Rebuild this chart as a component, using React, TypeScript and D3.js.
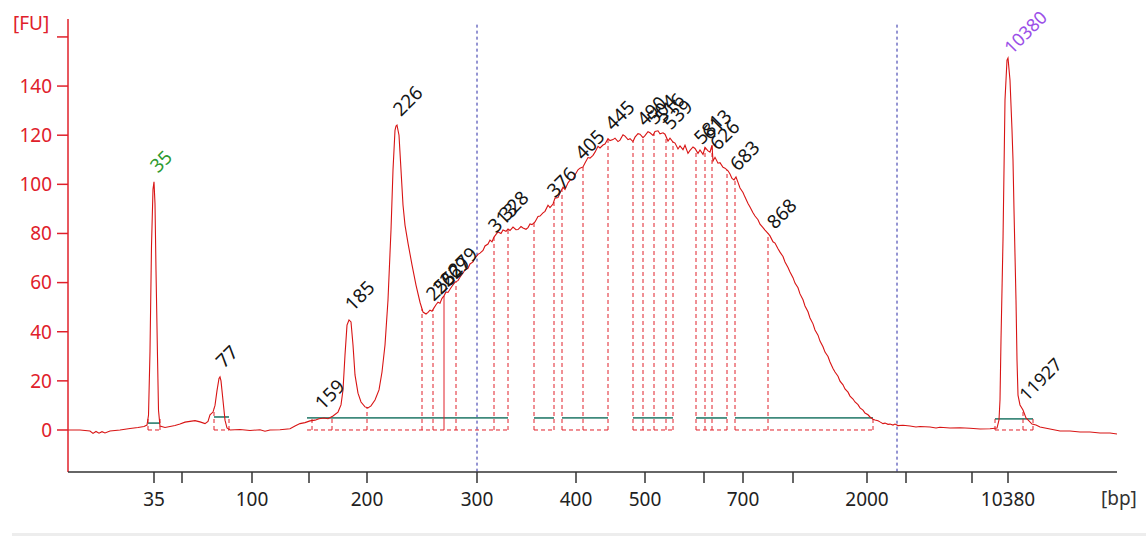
import React from "react";
import * as d3 from "d3";

// [migration time (arbitrary units), fluorescence FU]
const trace: [number, number][] = [
  [0, 0], [1.2, 0], [2.2, -0.4], [2.5, -1.4], [2.8, -0.6], [3.1, -1.3], [3.4, -0.7], [3.7, -1.2], [4.2, -0.4],
  [5.2, 0], [6.2, 0.6], [7.0, 1.0], [7.6, 1.4], [7.9, 2], [8.05, 6], [8.2, 32], [8.35, 75], [8.5, 98], [8.6, 101],
  [8.7, 92], [8.8, 65], [8.95, 30], [9.05, 8], [9.2, 1.6], [9.7, 1.0], [10.2, 1.4], [10.7, 1.8], [11.2, 2.4],
  [11.7, 3.2], [12.2, 3.5], [12.7, 3.8], [13.2, 3.3], [13.7, 2.6], [14.0, 3.5], [14.2, 6.2], [14.5, 7.3],
  [14.7, 10], [14.9, 16], [15.1, 21], [15.2, 21.6], [15.3, 20], [15.5, 12], [15.7, 4], [15.9, 0.8], [16.2, 0],
  [17.2, 0.2], [18.2, -0.2], [19.2, 0.1], [19.7, -0.5], [20.2, 0], [21.2, 0.1], [22.2, 0.5], [22.7, 1.6],
  [23.2, 2.6], [23.7, 3.0], [24.2, 3.7], [24.7, 4.0], [25.1, 4.6], [25.6, 4.9], [26.0, 4.6], [26.5, 5.7],
  [27.0, 7.3], [27.3, 10.2], [27.5, 16.3], [27.7, 30.5], [27.9, 42.7], [28.1, 44.8], [28.3, 44], [28.5, 34.6],
  [28.7, 22.4], [29.0, 15], [29.3, 11.4], [29.7, 9.4], [30.0, 9.0], [30.3, 9.8], [30.7, 12.2], [31.1, 16.3],
  [31.4, 23.6], [31.7, 34.6], [32.0, 52.9], [32.3, 81.4], [32.5, 105.8], [32.7, 122], [32.8, 123.7],
  [32.9, 124.1], [33.1, 120], [33.3, 105.8], [33.5, 91.6], [33.7, 83.4], [34.0, 76.1], [34.4, 67.2], [34.8, 59],
  [35.2, 52], [35.5, 48], [35.8, 47.2], [36.0, 47.9], [36.2, 48.8], [36.4, 48.3], [36.6, 49.7], [36.8, 51.0],
  [37.0, 52], [37.2, 51.6], [37.4, 53.6], [37.6, 54.6], [37.8, 56.2], [38.0, 56.0], [38.2, 57.3], [38.5, 59.1],
  [38.7, 60.2], [39.0, 60.8], [39.2, 62.2], [39.5, 63.9], [39.7, 65.1], [40.0, 65.8], [40.2, 67.6], [40.5, 68.4],
  [40.7, 70], [41.0, 71.5], [41.2, 72.0], [41.5, 73.1], [41.7, 74.9], [42.0, 75.7], [42.2, 77.3], [42.4, 76.6],
  [42.6, 78.5], [42.8, 79.6], [43.0, 80.6], [43.3, 80.0], [43.5, 81.4], [43.8, 80.9], [44.0, 81.8], [44.2, 81.2],
  [44.5, 82.6], [44.8, 81.5], [45.0, 81.6], [45.3, 82.8], [45.5, 82.2], [45.8, 81.7], [46.0, 82.4], [46.2, 83.9],
  [46.4, 83.6], [46.7, 84.7], [47.0, 86.9], [47.2, 87.1], [47.5, 88.4], [47.7, 89.0], [48.0, 91.5], [48.2, 90.5],
  [48.5, 92.0], [48.7, 94.4], [49.0, 94.6], [49.2, 96.5], [49.5, 98.8], [49.7, 97.9], [50.0, 100.6], [50.2, 101.7],
  [50.5, 102.1], [50.7, 103.8], [51.0, 105.9], [51.2, 106.6], [51.5, 107.1], [51.7, 108.7], [52.0, 110.9],
  [52.2, 110.7], [52.5, 111.8], [52.7, 113.1], [53.0, 115.5], [53.2, 114.8], [53.5, 116.0], [53.7, 116.4],
  [54.0, 118.6], [54.2, 117.8], [54.5, 118.2], [54.7, 118.8], [55.0, 117.4], [55.2, 118.0], [55.5, 120.2],
  [55.7, 119.6], [56.0, 118.2], [56.2, 118.6], [56.5, 117.4], [56.7, 119.2], [57.0, 120.6], [57.2, 120.4],
  [57.5, 119.0], [57.7, 119.8], [58.0, 121.4], [58.2, 121.0], [58.5, 119.9], [58.7, 121.5], [59.0, 121.8],
  [59.2, 120.6], [59.5, 121.0], [59.7, 120.4], [60.0, 117.6], [60.2, 118.8], [60.5, 117.2], [60.7, 116.8],
  [61.0, 114.4], [61.2, 115.6], [61.5, 114.1], [61.7, 115.9], [62.0, 112.6], [62.2, 113.8], [62.5, 115.2],
  [62.7, 114.6], [63.0, 112.6], [63.2, 114.0], [63.5, 112.2], [63.7, 115.0], [64.0, 113.6], [64.2, 113.1],
  [64.4, 116.0], [64.5, 109.5], [64.7, 111.0], [65.0, 108.6], [65.2, 108.8], [65.5, 106.9], [65.7, 106.6],
  [66.0, 105.5], [66.2, 104.2], [66.4, 102.4], [66.6, 101.8], [66.8, 103.0], [67.0, 100.8], [67.2, 98.5],
  [67.5, 96.7], [67.7, 94.8], [68.0, 92.2], [68.2, 90.8], [68.5, 88.4], [68.7, 87.1], [69.0, 85.6], [69.2, 83.8],
  [69.5, 82.4], [69.7, 81.4], [70.0, 80.0], [70.2, 79], [70.5, 76.6], [70.7, 76.1], [71.0, 73.8], [71.2, 72.4],
  [71.5, 70.6], [71.7, 68.4], [72.0, 66.1], [72.2, 64.3], [72.5, 62.0], [72.7, 59.8], [73.0, 57.9], [73.2, 55.4],
  [73.5, 53.0], [73.7, 50.5], [74.0, 48.1], [74.2, 45.6], [74.5, 43.2], [74.7, 40.7], [75.0, 38.6], [75.2, 36.2],
  [75.5, 33.9], [75.7, 31.7], [76.0, 29.9], [76.2, 27.7], [76.5, 25.0], [76.7, 23.6], [77.0, 21.9], [77.2, 19.9],
  [77.5, 18.4], [77.7, 16.7], [78.0, 15.4], [78.2, 13.8], [78.5, 12.6], [78.7, 11.4], [79.0, 10.3], [79.2, 9],
  [79.5, 8.1], [79.7, 6.9], [80.0, 6.2], [80.2, 5.3], [80.5, 4.4], [80.7, 4.1], [81.0, 3.8], [81.2, 3.3],
  [81.5, 2.6], [81.7, 2.8], [82.0, 2.3], [82.2, 2.4], [82.5, 2.0], [82.7, 2.4], [83.0, 1.8], [83.5, 1.9],
  [84.2, 1.6], [84.8, 1.2], [85.2, 1.4], [86.2, 1.2], [86.8, 0.8], [87.2, 1.1], [88.2, 0.8], [89.2, 0.9],
  [90.2, 0.7], [91.2, 0.4], [92.2, 0.5], [92.9, 0.8], [93.1, 4.1], [93.2, 12.2], [93.3, 36.6], [93.5, 77.3],
  [93.6, 105.8], [93.7, 134.3], [93.9, 150.6], [94.0, 151.4], [94.2, 142.4], [94.4, 122.1], [94.5, 109.9],
  [94.6, 89.5], [94.8, 52.9], [94.9, 28.5], [95.0, 14.2], [95.2, 10.2], [95.5, 8.1], [95.8, 4.9], [96.0, 4.1],
  [96.4, 2.4], [96.8, 2.0], [97.2, 1.2], [97.7, 0.8], [98.2, 0.4], [99.2, -0.4], [100.2, -0.4], [101.2, -0.8],
  [102.2, -0.8], [103.2, -1.2], [104.2, -1.2], [104.9, -1.6],
];

const xTickTimes = [8.6, 11.4, 18.4, 24.1, 29.9, 40.9, 50.8, 57.7, 63.6, 67.5, 72.5, 79.9, 83.8, 90.4, 94.0];
const xTickLabels = ["35", "", "100", "", "200", "300", "400", "500", "", "700", "", "2000", "", "", "10380"];
const yTicks = [0, 20, 40, 60, 80, 100, 120, 140, 160];
const yTickLabels = ["0", "20", "40", "60", "80", "100", "120", "140", ""];

const peakLabels = [
  "35", "77", "159", "185", "226", "255", "262", "269", "279", "313", "328", "376", "405",
  "445", "490", "504", "516", "539", "581", "613", "626", "683", "868", "10380", "11927",
];
const peakTimes = [
  8.6, 15.2, 25.1, 28.1, 32.9, 36.2, 36.9, 37.6, 38.4, 42.4, 43.5, 48.3, 51.1,
  54.1, 57.3, 58.3, 59.1, 59.9, 63.0, 63.8, 64.6, 66.6, 70.3, 94.0, 95.5,
];
const peakColors: Record<string, string> = { "35": "#2f9a2f", "10380": "#9b4fe8" };

const regionStart = [8.0, 14.6, 23.9, 46.6, 49.4, 56.5, 62.8, 66.7, 92.7];
const regionEnd = [9.2, 16.1, 44.0, 48.6, 54.0, 60.5, 65.9, 80.5, 96.5];
const regionLevel = [2.8, 5.3, 4.9, 4.9, 4.9, 4.9, 4.9, 4.9, 4.5];

const boundaryTimes = [
  8.0, 9.2, 14.6, 16.1, 24.4, 26.4, 29.9, 35.4, 36.5, 37.6, 38.8, 42.6, 44.0, 46.6, 48.6, 49.4, 51.5,
  54.0, 56.5, 57.5, 58.6, 59.8, 60.5, 62.8, 63.7, 64.4, 65.9, 66.7, 70.0, 80.5, 92.7, 95.5, 96.5,
];
const solidBoundaries = [37.6];
const ladderLines = [40.9, 82.9];

const RED = "#e0202a";
const FONT = "'Noto Sans', 'DejaVu Sans', sans-serif";

const x = d3.scaleLinear().domain([0, 104.9]).range([68, 1117]);
const y = d3.scaleLinear().domain([-17.1, 167.3]).range([472, 19]);

const bisect = d3.bisector((d: [number, number]) => d[0]).left;
function fuAt(t: number) {
  const i = Math.max(1, Math.min(trace.length - 1, bisect(trace, t)));
  const [t0, v0] = trace[i - 1];
  const [t1, v1] = trace[i];
  return v0 + ((t - t0) / (t1 - t0)) * (v1 - v0);
}

export default function App() {
  const line = d3
    .line<[number, number]>()
    .x((d) => x(d[0]))
    .y((d) => y(d[1]));

  return (
    <svg
      width={1146}
      height={536}
      style={{ position: "fixed", left: 0, top: 0, background: "#fff" }}
      fontFamily={FONT}
    >
      <rect x={12} y={533} width={1134} height={3} fill="#ededed" />

      {/* ladder markers */}
      {ladderLines.map((t) => (
        <line
          key={t}
          x1={x(t)}
          x2={x(t)}
          y1={y(165)}
          y2={y(-17.1)}
          stroke="#2a2aa6"
          strokeWidth={1}
          strokeDasharray="3,3"
        />
      ))}

      {/* regions: green baseline and dashed floor */}
      {regionStart.map((s, i) => (
        <g key={i}>
          <line
            x1={x(s)}
            x2={x(regionEnd[i])}
            y1={y(regionLevel[i])}
            y2={y(regionLevel[i])}
            stroke="#3f8a7c"
            strokeWidth={1.8}
          />
          <line
            x1={x(s)}
            x2={x(regionEnd[i])}
            y1={y(0)}
            y2={y(0)}
            stroke={RED}
            strokeWidth={1}
            strokeDasharray="4,3"
          />
        </g>
      ))}

      {boundaryTimes.map((t) => (
        <line
          key={t}
          x1={x(t)}
          x2={x(t)}
          y1={y(0)}
          y2={y(Math.max(fuAt(t), 4.9))}
          stroke={RED}
          strokeWidth={1}
          strokeDasharray={solidBoundaries.includes(t) ? undefined : "4,3"}
        />
      ))}

      <path d={line(trace)!} fill="none" stroke="#d81414" strokeWidth={1.1} />

      {/* y axis */}
      <line x1={68} x2={68} y1={y(167.3)} y2={y(-17.1)} stroke={RED} strokeWidth={1.5} />
      {yTicks.map((v, i) => (
        <g key={v} transform={`translate(68, ${y(v)})`}>
          <line x1={-11} x2={0} stroke={RED} strokeWidth={1.5} />
          <text x={-16} dy="0.36em" textAnchor="end" fontSize={19} fill={RED}>
            {yTickLabels[i]}
          </text>
        </g>
      ))}
      <text x={13} y={30} fontSize={19} fill={RED}>
        [FU]
      </text>

      {/* x axis */}
      <line x1={68} x2={1117} y1={472} y2={472} stroke="#333" strokeWidth={1.5} />
      {xTickTimes.map((t, i) => (
        <g key={t} transform={`translate(${x(t)}, 472)`}>
          <line y1={0} y2={11} stroke="#333" strokeWidth={1.5} />
          <text y={34} textAnchor="middle" fontSize={19} fill="#222">
            {xTickLabels[i]}
          </text>
        </g>
      ))}
      <text x={1101} y={505} fontSize={19} fill="#333">
        [bp]
      </text>

      {/* peak labels */}
      {peakLabels.map((lab, i) => {
        const px = x(peakTimes[i]) + 4;
        const py = Math.max(y(fuAt(peakTimes[i])) - 8, 55);
        return (
          <text
            key={lab}
            transform={`translate(${px}, ${py}) rotate(-45)`}
            fontSize={lab.length > 4 ? 18 : 19}
            fill={peakColors[lab] || "#151515"}
          >
            {lab}
          </text>
        );
      })}
    </svg>
  );
}
